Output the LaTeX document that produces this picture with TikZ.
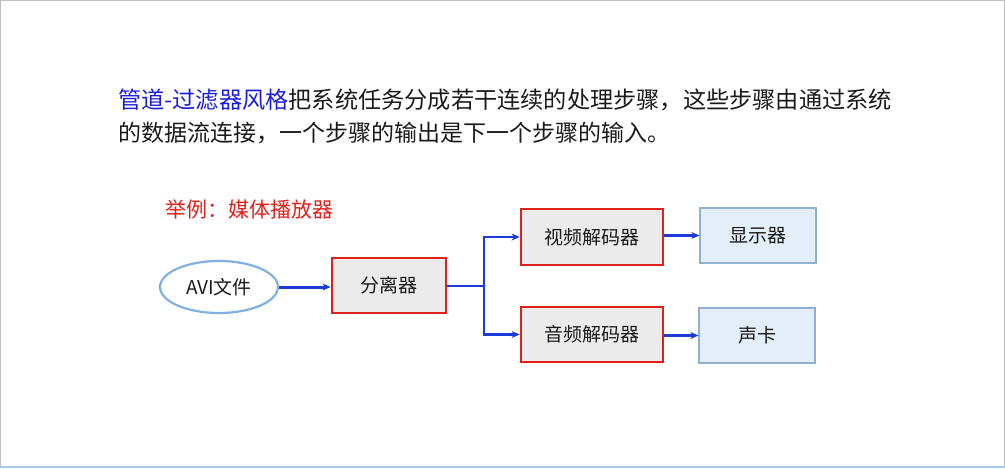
\documentclass[tikz,border=0pt]{standalone}
\usepackage{fontspec}
\setmainfont{Noto Sans CJK SC}
\usetikzlibrary{shapes.geometric,arrows.meta}
\definecolor{txt}{HTML}{1A1A1A}
\definecolor{tblue}{HTML}{1C1CD8}
\definecolor{tred}{HTML}{E0201A}
\definecolor{lblue}{HTML}{7FB2E0}
\definecolor{abl}{HTML}{1A3ADB}
\definecolor{gfill}{HTML}{EBEBEB}
\definecolor{bfill}{HTML}{E4EEF8}
\definecolor{bedge}{HTML}{8FB0D0}
\tikzset{
  redbox/.style={draw=tred,line width=2.8pt,fill=gfill,inner sep=0pt,font=\fontsize{19}{22}\selectfont,text=txt},
  bluebox/.style={draw=bedge,line width=1.2pt,fill=bfill,inner sep=0pt,font=\fontsize{19}{22}\selectfont,text=txt},
  conn/.style={draw=abl,line width=2.5pt,-{Stealth[length=8pt,width=7pt]}},
  thinconn/.style={draw=abl,line width=2pt}
}
\begin{document}
\begin{tikzpicture}[x=1pt,y=-1pt]
\useasboundingbox (0,0) rectangle (1005,469);
\draw[draw=black!25,line width=1pt] (0.5,467) -- (0.5,0.5) -- (1004.5,0.5) -- (1004.5,467);
\draw[draw=lblue!70,line width=1.5pt] (0,467) -- (1005,467);
\node[anchor=west,inner sep=0pt,text=txt,font=\fontsize{23.2}{26}\selectfont] (l1) at (118,100) {\textcolor{tblue}{管道-过滤器风格}把系统任务分成若干连续的处理步骤，这些步骤由通过系统};
\node[anchor=west,inner sep=0pt,text=txt,font=\fontsize{23}{26}\selectfont] (l2) at (118,133) {的数据流连接，一个步骤的输出是下一个步骤的输入。};
\node[anchor=west,inner sep=0pt,text=tred,font=\fontsize{21}{24}\selectfont] (ex) at (165,209) {举例：媒体播放器};
\node[ellipse,draw=lblue,line width=2.2pt,fill=white,minimum width=118pt,minimum height=52pt,inner sep=0pt,font=\fontsize{19}{22}\selectfont,text=txt] (avi) at (219,287) {AVI文件};
\node[redbox,minimum width=114pt,minimum height=55pt] (split) at (389,285.5) {分离器};
\node[redbox,minimum width=142pt,minimum height=56pt] (vdec) at (592,237) {视频解码器};
\node[redbox,minimum width=142pt,minimum height=55pt] (adec) at (592,334.5) {音频解码器};
\node[bluebox,minimum width=116pt,minimum height=55pt] (disp) at (758,235.5) {显示器};
\node[bluebox,minimum width=116pt,minimum height=55pt] (snd) at (757,335.5) {声卡};
\coordinate (j) at (484,285.5);
\draw[conn,line width=3pt] (avi.east) -- (avi.east -| split.west);
\draw[thinconn] (split.east) -- (j);
\draw[conn] (j) |- (vdec.west);
\draw[conn] (j) |- (adec.west);
\draw[conn] (vdec.east |- disp.west) -- (disp.west);
\draw[conn] (adec.east |- snd.west) -- (snd.west);
\end{tikzpicture}
\end{document}
